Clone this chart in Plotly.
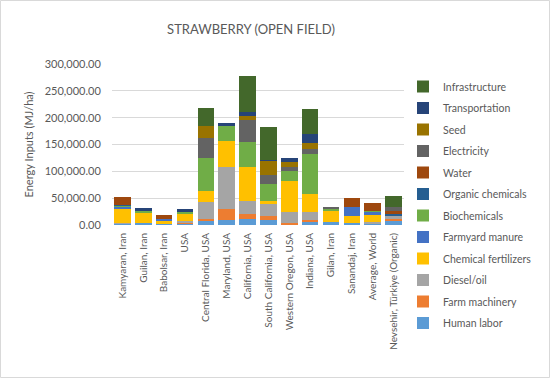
import plotly.graph_objects as go

categories = ["Kamyaran, Iran", "Guilan, Iran", "Babolsar, Iran", "USA", "Central Florida, USA",
              "Maryland, USA", "California, USA", "South California, USA", "Western Oregon, USA",
              "Indiana, USA", "Gilan, Iran", "Sanandaj, Iran", "Average, World", "Nevsehir, Türkiye (Organic)"]

human_labor =          [2000, 4000, 2000, 2000, 8500, 9000, 12000, 10000, 1000, 6000, 6000, 4000, 3000, 9000]
farm_machinery =       [500, 0, 0, 3000, 2000, 20000, 8000, 7000, 2000, 4000, 0, 0, 0, 2000]
diesel_oil =           [1000, 0, 0, 2000, 33000, 79000, 24000, 23000, 21000, 14000, 0, 0, 2000, 6000]
chemical_fertilizers = [26000, 18000, 6000, 14000, 20000, 49000, 65000, 5000, 58000, 34000, 20000, 12000, 14000, 0]
farmyard_manure =      [5000, 0, 4000, 0, 0, 0, 0, 0, 0, 0, 0, 18000, 6000, 0]
biochemicals =         [1000, 5000, 0, 5000, 61000, 28000, 46000, 32000, 18000, 74000, 4000, 0, 2000, 0]
organic_chemicals =    [2000, 0, 0, 0, 0, 0, 0, 0, 0, 0, 0, 0, 0, 4000]
water =                [15000, 0, 7000, 0, 0, 0, 0, 0, 0, 0, 0, 17000, 14000, 5000]
electricity =          [0, 0, 0, 0, 37000, 0, 40000, 17000, 9000, 10000, 2000, 0, 0, 8000]
seed =                 [0, 0, 0, 0, 23000, 0, 9000, 26000, 9000, 10000, 0, 0, 0, 0]
transportation =       [0, 4000, 0, 3000, 0, 6000, 7000, 2000, 6000, 18000, 0, 0, 0, 0]
infrastructure =       [0, 0, 0, 0, 33000, 0, 66000, 61000, 0, 46000, 0, 0, 0, 20000]

y_ticks = [0, 50000, 100000, 150000, 200000, 250000, 300000]

series = [
    ("Human labor", human_labor, "#5B9BD5"),
    ("Farm machinery", farm_machinery, "#ED7D31"),
    ("Diesel/oil", diesel_oil, "#A5A5A5"),
    ("Chemical fertilizers", chemical_fertilizers, "#FFC000"),
    ("Farmyard manure", farmyard_manure, "#4472C4"),
    ("Biochemicals", biochemicals, "#70AD47"),
    ("Organic chemicals", organic_chemicals, "#255E91"),
    ("Water", water, "#9E480E"),
    ("Electricity", electricity, "#636363"),
    ("Seed", seed, "#997300"),
    ("Transportation", transportation, "#264478"),
    ("Infrastructure", infrastructure, "#43682B"),
]

fig = go.Figure()
n = len(series)
for i, (name, vals, color) in enumerate(series):
    fig.add_trace(go.Bar(x=categories, y=vals, name=name, marker_color=color,
                         marker_line_width=0, legendgroup=str(i), legendrank=n - i))

font_family = "Lato, 'Open Sans', sans-serif"
W, H = 550, 378
L, R, T, B = 112, 146, 64, 153
pw = W - L - R
ph = H - T - B

fig.update_layout(
    width=W, height=H,
    margin=dict(l=L, r=R, t=T, b=B, autoexpand=False),
    barmode="stack",
    bargap=0.2,
    paper_bgcolor="white",
    plot_bgcolor="white",
    font=dict(family=font_family, color="#595959", size=10),
    title=dict(text="STRAWBERRY (OPEN FIELD)", x=251 / W, xanchor="center",
               y=1 - 29.5 / H, yanchor="middle", yref="container",
               font=dict(size=13, color="#595959", family=font_family)),
    yaxis=dict(range=[0, 300000], tickvals=y_ticks, tickformat=",.2f",
               gridcolor="#D9D9D9", gridwidth=1, zeroline=False, showline=False,
               tickfont=dict(size=11, color="#595959"),
               title=dict(text="Energy Inputs (MJ/ha)", font=dict(size=11, color="#595959"), standoff=8),
               ticks="outside", ticklen=8, tickcolor="rgba(0,0,0,0)"),
    xaxis=dict(tickangle=-90, tickfont=dict(size=10, color="#595959"), showline=False,
               ticks="outside", ticklen=3, tickcolor="rgba(0,0,0,0)", showgrid=False),
    legend=dict(x=(403 - L) / pw, xanchor="left", yref="container", y=1 - 72 / H, yanchor="top",
                traceorder="grouped", font=dict(size=10.5, color="#595959"),
                tracegroupgap=2.5, itemwidth=30, maxheight=330, bgcolor="rgba(0,0,0,0)"),
    shapes=[dict(type="rect", xref="paper", yref="paper",
                 x0=-(L - 0.5) / pw, x1=1 + (R - 0.5) / pw, y0=-(B - 0.5) / ph, y1=1 + (T - 0.5) / ph,
                 line=dict(color="#D9D9D9", width=1), layer="below")],
)

fig.write_html("out.html", config={"displayModeBar": False},
               post_script="document.body.style.margin='0';")
